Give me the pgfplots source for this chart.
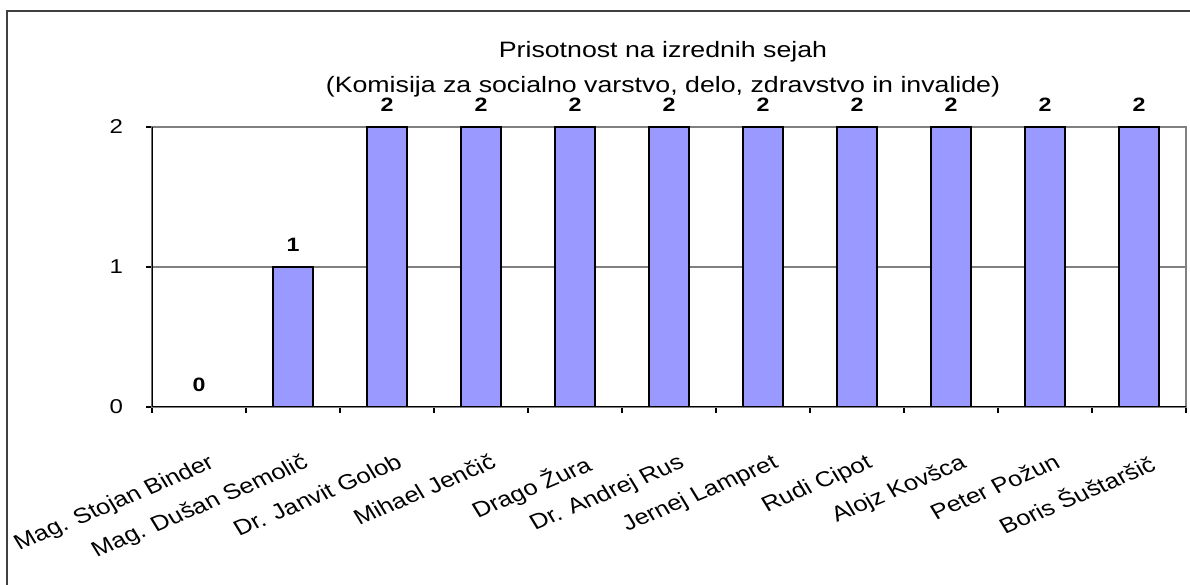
\documentclass[border=0pt]{standalone}
\usepackage{pgfplots}
\pgfplotsset{compat=1.18}
\usepackage{fontspec}
\setmainfont{Liberation Sans}[FakeStretch=1.2]
\newfontfamily\plainfont{Liberation Sans}
\definecolor{barfill}{RGB}{153,153,255}
\definecolor{gridgray}{RGB}{128,128,128}
\begin{document}
\begin{tikzpicture}
\useasboundingbox (0,0) rectangle (892.5pt,438.75pt);
\clip (0,0) rectangle (892.5pt,438.75pt);
\fill[white] (0,0) rectangle (892.5pt,438.75pt);
\draw[line width=1.1pt, black!75] (5.25pt,-20pt) rectangle (920pt,430.5pt);
\node[anchor=base, font=\fontsize{16.7}{18}\selectfont] at (497.25pt,395.25pt) {Prisotnost na izrednih sejah};
\node[anchor=base, font=\fontsize{16.7}{18}\selectfont] at (497.25pt,369pt) {(Komisija za socialno varstvo, delo, zdravstvo in invalide)};
\begin{axis}[
  at={(114pt,133.5pt)}, anchor=south west,
  scale only axis, width=775.5pt, height=210pt,
  xmin=-0.5, xmax=10.5, ymin=0, ymax=2,
  ybar, bar width=30pt,
  axis line style={gridgray, line width=0.8pt},
  ytick={0,1,2},
  ymajorgrids, grid style={gridgray, line width=0.8pt},
  tick align=outside,
  ytick pos=left, xtick pos=bottom,
  major tick length=4.5pt, minor tick length=4.5pt,
  y tick style={black, line width=0.8pt},
  minor x tick style={black, line width=0.8pt},
  major x tick style={draw=none},
  xtick={0,...,10},
  minor xtick={-0.5,0.5,...,10.5},
  xticklabels={Mag. Stojan Binder, Mag. Dušan Semolič, Dr. Janvit Golob, Mihael Jenčič, Drago Žura, Dr. Andrej Rus, Jernej Lampret, Rudi Cipot, Alojz Kovšca, Peter Požun, Boris Šuštaršič},
  xticklabel style={xscale=1.2, rotate=27, anchor=north east, inner sep=0pt, font=\plainfont\fontsize{16}{16}\selectfont, xshift=-9pt, yshift=-29pt},
  yticklabel style={anchor=east, inner sep=0pt, font=\fontsize{15}{15}\selectfont, xshift=-17pt},
  /pgf/number format/assume math mode=true,
  nodes near coords,
  every node near coord/.append style={font=\bfseries\fontsize{14.5}{14.5}\selectfont, anchor=base, yshift=11.25pt, inner sep=0pt},
]
\addplot[fill=barfill, draw=black, line width=1.1pt] coordinates {
(0,0) (1,1) (2,2) (3,2) (4,2) (5,2) (6,2) (7,2) (8,2) (9,2) (10,2)};
\draw[black, line width=1pt] (rel axis cs:0,0) -- (rel axis cs:1,0);
\draw[black, line width=1pt] (rel axis cs:0,0) -- (rel axis cs:0,1);
\end{axis}
\end{tikzpicture}
\end{document}
